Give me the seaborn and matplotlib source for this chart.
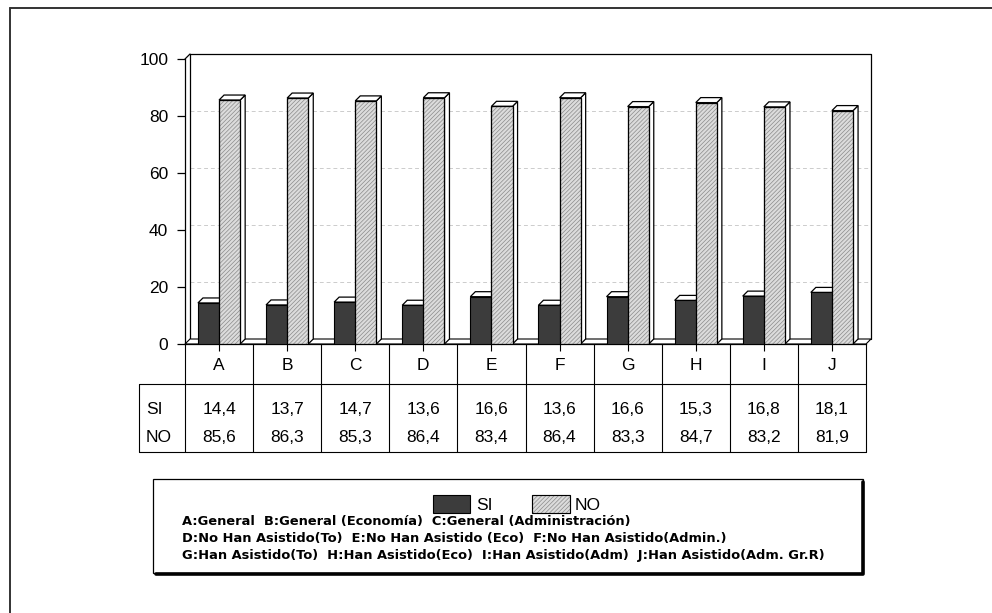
import pandas as pd
import matplotlib.pyplot as plt
import numpy as np
import seaborn as sns
from matplotlib.patches import Polygon, Rectangle

# data
grupos = ["A", "B", "C", "D", "E", "F", "G", "H", "I", "J"]
si_vals = [14.4, 13.7, 14.7, 13.6, 16.6, 13.6, 16.6, 15.3, 16.8, 18.1]
no_vals = [85.6, 86.3, 85.3, 86.4, 83.4, 86.4, 83.3, 84.7, 83.2, 81.9]
series = ["SI", "NO"]
y_ticks = [0, 20, 40, 60, 80, 100]
leyenda = ["A:General  B:General (Economía)  C:General (Administración)",
           "D:No Han Asistido(To)  E:No Han Asistido (Eco)  F:No Han Asistido(Admin.)",
           "G:Han Asistido(To)  H:Han Asistido(Eco)  I:Han Asistido(Adm)  J:Han Asistido(Adm. Gr.R)"]

sns.set_style("white")
plt.rcParams['font.family'] = ['Liberation Sans', 'DejaVu Sans']
plt.rcParams['text.color'] = 'black'
plt.rcParams['hatch.linewidth'] = 0.5

colores = {"SI": "#3c3c3c", "NO": "#dcdcdc"}
gris_trama = "#8a8a8a"
trama = "////////"

df = pd.DataFrame({"grupo": grupos * 2,
                   "serie": ["SI"] * len(grupos) + ["NO"] * len(grupos),
                   "valor": si_vals + no_vals})

W, H = 992, 613
fig = plt.figure(figsize=(W / 100, H / 100), dpi=100)

def box(x0, y0, x1, y1):
    # pixel box -> figure fraction
    return [x0 / W, 1 - y1 / H, (x1 - x0) / W, (y1 - y0) / H]

# background overlay in pixel coordinates
bg = fig.add_axes([0, 0, 1, 1], zorder=0)
bg.set_xlim(0, W)
bg.set_ylim(H, 0)
bg.axis("off")

# main bar chart
ax = fig.add_axes(box(185, 59, 866, 344), zorder=2)
sns.barplot(data=df, x="grupo", y="valor", hue="serie", hue_order=series,
            palette=colores, width=0.62, saturation=1, edgecolor="black",
            linewidth=0.8, legend=False, ax=ax)
ax.set_xlim(-0.5, len(grupos) - 0.5)
ax.set_ylim(0, 100)
ax.patch.set_alpha(0)

# depth of the 3d effect
dx = 5 * (len(grupos)) / 681
dy = 5 * 100 / 285

bars = [p for p in ax.patches]
for i, p in enumerate(bars):
    p.set_zorder(3)
    x0, w, h = p.get_x(), p.get_width(), p.get_height()
    if i >= len(grupos):
        # hatch takes the edge colour, so outline the bar separately
        p.set_hatch(trama)
        p.set_edgecolor(gris_trama)
        ax.add_patch(Rectangle((x0, 0), w, h, fill=False, edgecolor="black",
                               lw=0.9, zorder=3.1))
    top = Polygon([(x0, h), (x0 + w, h), (x0 + w + dx, h + dy), (x0 + dx, h + dy)],
                  closed=True, facecolor="white", edgecolor="black", lw=0.9,
                  zorder=1.5, clip_on=False)
    side = Polygon([(x0 + w, 0), (x0 + w + dx, dy), (x0 + w + dx, h + dy), (x0 + w, h)],
                   closed=True, facecolor="white", edgecolor="black", lw=0.9,
                   zorder=1.5, clip_on=False)
    ax.add_patch(side)
    ax.add_patch(top)

xa, xb = -0.5, len(grupos) - 0.5
floor = Polygon([(xa, 0), (xb, 0), (xb + dx, dy), (xa + dx, dy)], closed=True,
                facecolor="white", edgecolor="black", lw=0.8, zorder=1, clip_on=False)
ax.add_patch(floor)

# back walls
for yv in y_ticks[1:-1]:
    ax.plot([xa + dx, xb + dx], [yv + dy, yv + dy], color="#cccccc", lw=0.7,
            ls=(0, (4, 3)), zorder=0.5, clip_on=False)
ax.plot([xa + dx, xa + dx, xb + dx, xb + dx], [dy, 100 + dy, 100 + dy, dy],
        color="black", lw=0.9, zorder=0.6, clip_on=False)
ax.plot([xa, xa + dx], [100, 100 + dy], color="black", lw=0.9, clip_on=False)

sns.despine(ax=ax, top=True, right=True)
for s in ["left", "bottom"]:
    ax.spines[s].set_linewidth(0.9)
    ax.spines[s].set_color("black")
ax.set_yticks(y_ticks)
ax.tick_params(axis="y", direction="out", length=6, width=0.9, labelsize=12.5,
               left=True, pad=6, colors="black")
ax.tick_params(axis="x", direction="out", length=5, width=0.8, bottom=True,
               labelbottom=False, colors="black")
ax.set_xlabel("")
ax.set_ylabel("")

# data table under the chart
tax = fig.add_axes(box(185, 344, 866, 452), zorder=2)
tax.set_xlim(xa, xb)
tax.set_ylim(108, 0)
tax.axis("off")
x_left = xa - 46 / 68.1
for k in range(len(grupos) + 1):
    tax.plot([xa + k, xa + k], [0, 108], color="black", lw=0.8, clip_on=False)
tax.plot([x_left, xb], [40, 40], color="black", lw=0.8, clip_on=False)
tax.plot([x_left, xb], [108, 108], color="black", lw=0.8, clip_on=False)
tax.plot([x_left, x_left], [40, 108], color="black", lw=0.8, clip_on=False)
for i, g in enumerate(grupos):
    tax.text(i, 21, g, ha="center", va="center", fontsize=12.5)
    tax.text(i, 65, f"{si_vals[i]:.1f}".replace(".", ","), ha="center", va="center", fontsize=12.5)
    tax.text(i, 93, f"{no_vals[i]:.1f}".replace(".", ","), ha="center", va="center", fontsize=12.5)
tax.text(x_left + 0.1, 65, series[0], ha="left", va="center", fontsize=12.5, clip_on=False)
tax.text(x_left + 0.1, 93, series[1], ha="left", va="center", fontsize=12.5, clip_on=False)

# outer frame
bg.plot([10, W], [8, 8], color="#333333", lw=1.4)
bg.plot([10, 10], [8, H], color="#333333", lw=1.4)

# legend box
bg.add_patch(Rectangle((153, 479), 710, 94, facecolor="white", edgecolor="black", lw=0.9))
bg.plot([863, 863, 156], [482, 574, 574], color="black", lw=2.6)
bg.add_patch(Rectangle((433, 495), 37, 18, facecolor=colores["SI"], edgecolor="black", lw=0.8))
bg.text(476, 505, series[0], ha="left", va="center", fontsize=12.5)
bg.add_patch(Rectangle((532, 495), 38, 18, facecolor=colores["NO"], edgecolor=gris_trama,
                       lw=0.8, hatch=trama))
bg.add_patch(Rectangle((532, 495), 38, 18, fill=False, edgecolor="black", lw=0.8))
bg.text(575, 505, series[1], ha="left", va="center", fontsize=12.5)
for j, linea in enumerate(leyenda):
    bg.text(182, 522 + j * 16.5, linea, ha="left", va="center", fontsize=9.4,
            family="DejaVu Sans", fontweight="bold")

plt.savefig("out.png", dpi=100)
